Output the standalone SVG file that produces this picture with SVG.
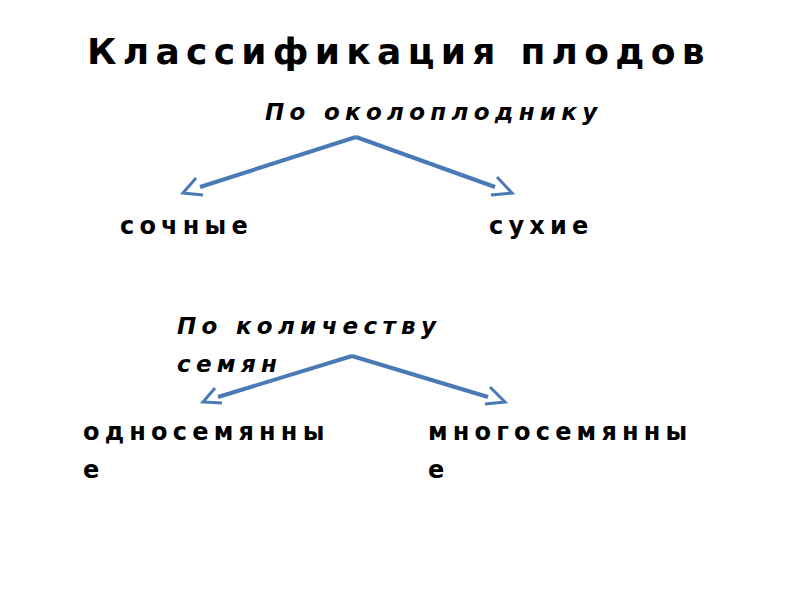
<svg xmlns="http://www.w3.org/2000/svg" width="800" height="600" viewBox="0 0 800 600">
<style>
text{font-family:"DejaVu Sans",sans-serif;font-weight:bold;fill:#000}
.t{font-size:36px;letter-spacing:6.3px}
.s{font-size:23px;font-style:italic;letter-spacing:5.3px}
.n{font-size:24px;letter-spacing:5.2px}
.c line{stroke:#4a7ab5;stroke-width:4}
.c path{fill:none;stroke:#4a7ab5;stroke-width:3}
</style>
<rect width="800" height="600" fill="#fff"/>
<g id="title"><text class="t" x="87" y="64">Классификация  плодов</text></g>
<g id="crit1"><text class="s" x="265" y="120">По  околоплоднику</text></g>
<g id="juicy"><text class="n" x="120" y="234">сочные</text></g>
<g id="dry"><text class="n" x="489" y="234">сухие</text></g>
<g id="crit2"><text class="s" x="177" y="334">По  количеству</text><text class="s" x="177" y="372">семян</text></g>
<g id="single"><text class="n" x="83" y="440">односемянны</text><text class="n" x="83" y="478">е</text></g>
<g id="multi"><text class="n" x="428" y="440">многосемянны</text><text class="n" x="428" y="478">е</text></g>
<g class="c">
<line x1="356" y1="137" x2="200" y2="187"/><path d="M196 178 L183 193 L203 195"/>
<line x1="356" y1="137" x2="495" y2="187"/><path d="M497 177 L512 193 L491 195"/>
<line x1="352" y1="356" x2="218" y2="397"/><path d="M215 388 L203 402 L222 403"/>
<line x1="352" y1="356" x2="488" y2="397"/><path d="M490 387 L505 402 L485 404"/>
</g>
</svg>
